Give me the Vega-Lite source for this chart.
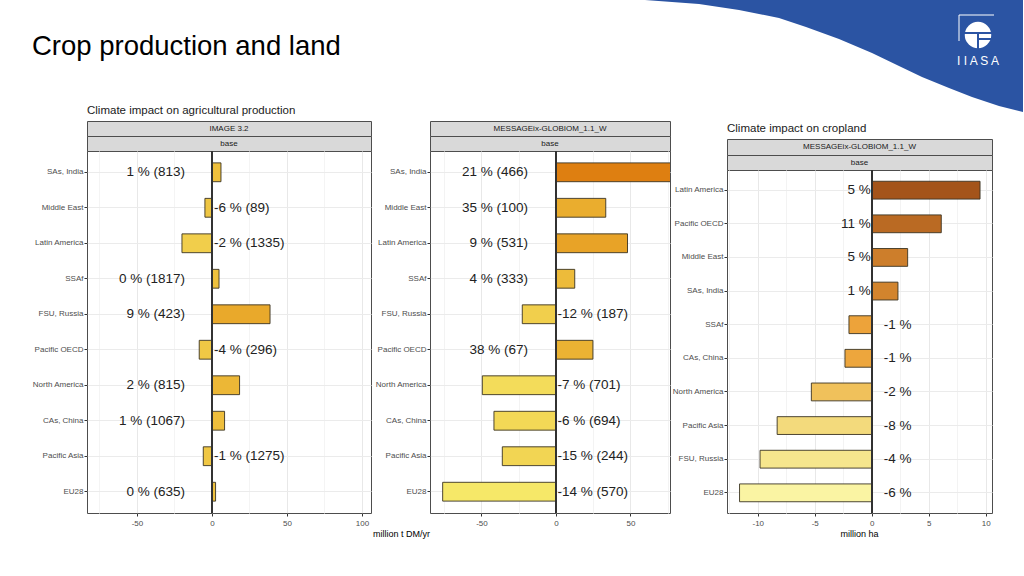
{
  "$schema": "https://vega.github.io/schema/vega-lite/v6.json",
  "background": "white",
  "padding": {"left": 31, "top": 0, "right": 0, "bottom": 0},
  "bounds": "flush",
  "spacing": 11,
  "config": {
    "view": {"stroke": null},
    "font": "Liberation Sans",
    "axis": {"labelFont": "Liberation Sans", "titleFont": "Liberation Sans", "labelOverlap": false},
    "text": {"font": "Liberation Sans"},
    "title": {"font": "Liberation Sans"}
  },
  "datasets": {
    "prod": [
      {"model": "IMAGE 3.2", "region": "SAs, India", "value": 6, "label": "1 % (813)"},
      {"model": "IMAGE 3.2", "region": "Middle East", "value": -4.7, "label": "-6 % (89)"},
      {"model": "IMAGE 3.2", "region": "Latin America", "value": -20, "label": "-2 % (1335)"},
      {"model": "IMAGE 3.2", "region": "SSAf", "value": 4.7, "label": "0 % (1817)"},
      {"model": "IMAGE 3.2", "region": "FSU, Russia", "value": 38.7, "label": "9 % (423)"},
      {"model": "IMAGE 3.2", "region": "Pacific OECD", "value": -8.5, "label": "-4 % (296)"},
      {"model": "IMAGE 3.2", "region": "North America", "value": 18.4, "label": "2 % (815)"},
      {"model": "IMAGE 3.2", "region": "CAs, China", "value": 8.4, "label": "1 % (1067)"},
      {"model": "IMAGE 3.2", "region": "Pacific Asia", "value": -5.8, "label": "-1 % (1275)"},
      {"model": "IMAGE 3.2", "region": "EU28", "value": 2.4, "label": "0 % (635)"},
      {"model": "MESSAGEix-GLOBIOM_1.1_W", "region": "SAs, India", "value": 98, "label": "21 % (466)"},
      {"model": "MESSAGEix-GLOBIOM_1.1_W", "region": "Middle East", "value": 33.4, "label": "35 % (100)"},
      {"model": "MESSAGEix-GLOBIOM_1.1_W", "region": "Latin America", "value": 48, "label": "9 % (531)"},
      {"model": "MESSAGEix-GLOBIOM_1.1_W", "region": "SSAf", "value": 12.6, "label": "4 % (333)"},
      {"model": "MESSAGEix-GLOBIOM_1.1_W", "region": "FSU, Russia", "value": -22.6, "label": "-12 % (187)"},
      {"model": "MESSAGEix-GLOBIOM_1.1_W", "region": "Pacific OECD", "value": 24.8, "label": "38 % (67)"},
      {"model": "MESSAGEix-GLOBIOM_1.1_W", "region": "North America", "value": -49.4, "label": "-7 % (701)"},
      {"model": "MESSAGEix-GLOBIOM_1.1_W", "region": "CAs, China", "value": -41.6, "label": "-6 % (694)"},
      {"model": "MESSAGEix-GLOBIOM_1.1_W", "region": "Pacific Asia", "value": -36, "label": "-15 % (244)"},
      {"model": "MESSAGEix-GLOBIOM_1.1_W", "region": "EU28", "value": -76, "label": "-14 % (570)"}
    ],
    "land": [
      {"region": "Latin America", "value": 9.5, "label": "5 %"},
      {"region": "Pacific OECD", "value": 6.1, "label": "11 %"},
      {"region": "Middle East", "value": 3.15, "label": "5 %"},
      {"region": "SAs, India", "value": 2.3, "label": "1 %"},
      {"region": "SSAf", "value": -2.0, "label": "-1 %"},
      {"region": "CAs, China", "value": -2.35, "label": "-1 %"},
      {"region": "North America", "value": -5.3, "label": "-2 %"},
      {"region": "Pacific Asia", "value": -8.3, "label": "-8 %"},
      {"region": "FSU, Russia", "value": -9.8, "label": "-4 %"},
      {"region": "EU28", "value": -11.6, "label": "-6 %"}
    ],
    "swoosh": [
      {"x": 646, "y": 0}, {"x": 700, "y": 4}, {"x": 740, "y": 10}, {"x": 780, "y": 18},
      {"x": 807, "y": 27}, {"x": 840, "y": 39}, {"x": 873, "y": 53}, {"x": 900, "y": 66},
      {"x": 923, "y": 77}, {"x": 950, "y": 88}, {"x": 973, "y": 97}, {"x": 1000, "y": 106},
      {"x": 1024, "y": 112}
    ],
    "logo": [{"x": 979, "y": 35}],
    "logo_frame": [
      {"x": 960, "y": 15, "x2": 995, "y2": 15},
      {"x": 960, "y": 15, "x2": 960, "y2": 41}
    ],
    "logo_cut": [
      {"x": 964, "y": 33, "x2": 996, "y2": 33},
      {"x": 979, "y": 39, "x2": 996, "y2": 39},
      {"x": 979, "y": 33, "x2": 979, "y2": 51}
    ],
    "logo_text": [{"x": 979, "y": 61, "t": "I  I  A  S  A"}]
  },
  "vconcat": [
    {
      "width": 936,
      "height": 110,
      "title": {"text": "Crop production and land", "anchor": "start", "dx": -55, "offset": -82.5, "baseline": "alphabetic", "fontSize": 27.5, "fontWeight": "normal", "color": "#000000", "font": "Liberation Sans"},
      "layer": [
        {
          "data": {"name": "swoosh"},
          "mark": {"type": "area", "color": "#2b54a3", "clip": false},
          "encoding": {
            "x": {"field": "x", "type": "quantitative", "scale": {"domain": [88, 1024], "nice": false, "zero": false}, "axis": null},
            "y": {"field": "y", "type": "quantitative", "scale": {"domain": [0, 110], "nice": false, "zero": false, "reverse": true}, "axis": null},
            "y2": {"datum": 0}
          }
        },
        {
          "data": {"name": "logo_frame"},
          "mark": {"type": "rule", "color": "#ffffff", "strokeWidth": 1},
          "encoding": {
            "x": {"field": "x", "type": "quantitative"},
            "y": {"field": "y", "type": "quantitative"},
            "x2": {"field": "x2"},
            "y2": {"field": "y2"}
          }
        },
        {
          "data": {"name": "logo"},
          "mark": {"type": "point", "shape": "circle", "filled": true, "color": "#ffffff", "opacity": 1, "size": 700},
          "encoding": {
            "x": {"field": "x", "type": "quantitative"},
            "y": {"field": "y", "type": "quantitative"}
          }
        },
        {
          "data": {"name": "logo_cut"},
          "mark": {"type": "rule", "color": "#2b54a3", "strokeWidth": 2},
          "encoding": {
            "x": {"field": "x", "type": "quantitative"},
            "y": {"field": "y", "type": "quantitative"},
            "x2": {"field": "x2"},
            "y2": {"field": "y2"}
          }
        },
        {
          "data": {"name": "logo_text"},
          "mark": {"type": "text", "color": "#ffffff", "fontSize": 12, "align": "center", "baseline": "middle"},
          "encoding": {
            "x": {"field": "x", "type": "quantitative"},
            "y": {"field": "y", "type": "quantitative"},
            "text": {"field": "t"}
          }
        }
      ]
    },
    {
      "resolve": {"scale": {"color": "independent"}},
      "spacing": 0,
      "hconcat": [
        {
          "vconcat": [
            {
              "width": 284, "height": 15,
              "title": {"text": "Climate impact on agricultural production", "anchor": "start", "fontSize": 11.5, "fontWeight": "normal", "color": "#1a1a1a", "offset": -4, "baseline": "alphabetic"},
              "data": {"values": [{"t": "IMAGE 3.2"}]},
              "view": {"fill": "#d9d9d9", "stroke": "#4d4d4d"},
              "mark": {"type": "text", "fontSize": 8, "color": "#1a1a1a", "align": "center", "baseline": "middle"},
              "encoding": {"text": {"field": "t"}}
            },
            {
              "width": 284, "height": 15,
              "data": {"values": [{"t": "base"}]},
              "view": {"fill": "#d9d9d9", "stroke": "#4d4d4d"},
              "mark": {"type": "text", "fontSize": 8, "color": "#1a1a1a", "align": "center", "baseline": "middle"},
              "encoding": {"text": {"field": "t"}}
            },
            {
              "width": 284, "height": 362,
              "data": {"name": "prod"},
              "transform": [{"filter": "datum.model === 'IMAGE 3.2'"}],
              "view": {"stroke": "#4d4d4d", "fill": "#ffffff"},
              "layer": [
                {
                  "mark": {"type": "bar", "stroke": "#3a3322", "strokeWidth": 0.9, "clip": true},
                  "encoding": {
                    "x": {"field": "value", "type": "quantitative",
                      "scale": {"domain": [-83.3, 106], "nice": false},
                      "axis": {"title": null, "values": [-75, -50, -25, 0, 25, 50, 75, 100],
                        "labelExpr": "datum.value % 50 === 0 ? '' + datum.value : ''",
                        "grid": true,
                        "gridColor": {"condition": {"test": "datum.value % 50 !== 0", "value": "#f4f4f4"}, "value": "#e8e8e8"},
                        "tickOpacity": {"condition": {"test": "datum.value % 50 !== 0", "value": 0}, "value": 1},
                        "tickSize": 3, "tickColor": "#333333", "labelFontSize": 8, "labelColor": "#4d4d4d", "labelPadding": 3, "domain": false}},
                    "y": {"field": "region", "type": "nominal",
                      "sort": ["SAs, India", "Middle East", "Latin America", "SSAf", "FSU, Russia", "Pacific OECD", "North America", "CAs, China", "Pacific Asia", "EU28"],
                      "scale": {"paddingInner": 0.47, "paddingOuter": 0.335},
                      "axis": {"title": null, "labelFontSize": 8, "labelColor": "#4d4d4d", "tickColor": "#333333", "tickSize": 3, "labelPadding": 1, "domain": false, "grid": true, "gridColor": "#ebebeb"}},
                    "color": {"field": "value", "type": "quantitative", "scale": {"domain": [-80, 0, 100], "range": ["#f6ea6a", "#efc441", "#de7e10"]}, "legend": null}
                  }
                },
                {
                  "mark": {"type": "rule", "color": "#333333", "strokeWidth": 1},
                  "encoding": {"x": {"datum": 0, "type": "quantitative"}}
                },
                {
                  "transform": [{"filter": "datum.value > 0"}],
                  "mark": {"type": "text", "align": "right", "baseline": "middle", "dx": -27, "fontSize": 13.5, "color": "#222222"},
                  "encoding": {
                    "x": {"datum": 0, "type": "quantitative"},
                    "y": {"field": "region", "type": "nominal", "sort": ["SAs, India", "Middle East", "Latin America", "SSAf", "FSU, Russia", "Pacific OECD", "North America", "CAs, China", "Pacific Asia", "EU28"]},
                    "text": {"field": "label"}
                  }
                },
                {
                  "transform": [{"filter": "datum.value <= 0"}],
                  "mark": {"type": "text", "align": "left", "baseline": "middle", "dx": 2, "fontSize": 13.5, "color": "#222222"},
                  "encoding": {
                    "x": {"datum": 0, "type": "quantitative"},
                    "y": {"field": "region", "type": "nominal", "sort": ["SAs, India", "Middle East", "Latin America", "SSAf", "FSU, Russia", "Pacific OECD", "North America", "CAs, China", "Pacific Asia", "EU28"]},
                    "text": {"field": "label"}
                  }
                }
              ]
            }
          ],
          "spacing": 0,
          "bounds": "flush"
        },
        {
          "vconcat": [
            {
              "width": 240, "height": 15,
              "data": {"values": [{"t": "MESSAGEix-GLOBIOM_1.1_W"}]},
              "view": {"fill": "#d9d9d9", "stroke": "#4d4d4d"},
              "mark": {"type": "text", "fontSize": 8, "color": "#1a1a1a", "align": "center", "baseline": "middle"},
              "encoding": {"text": {"field": "t"}}
            },
            {
              "width": 240, "height": 15,
              "data": {"values": [{"t": "base"}]},
              "view": {"fill": "#d9d9d9", "stroke": "#4d4d4d"},
              "mark": {"type": "text", "fontSize": 8, "color": "#1a1a1a", "align": "center", "baseline": "middle"},
              "encoding": {"text": {"field": "t"}}
            },
            {
              "width": 240, "height": 362,
              "title": {"text": "million t DM/yr", "orient": "bottom", "anchor": "start", "frame": "group", "dx": -57, "offset": 3, "fontSize": 9, "fontWeight": "normal", "color": "#000000"},
              "data": {"name": "prod"},
              "transform": [{"filter": "datum.model === 'MESSAGEix-GLOBIOM_1.1_W'"}],
              "view": {"stroke": "#4d4d4d", "fill": "#ffffff"},
              "resolve": {"axis": {"x": "independent"}},
              "layer": [
                {
                  "mark": {"type": "rule", "color": "#333333", "strokeWidth": 1},
                  "encoding": {"x": {"datum": 0, "type": "quantitative",
                    "axis": {"orient": "bottom", "title": null, "values": [-75, -25, 25, 75], "grid": true, "gridColor": "#f3f3f3", "labels": false, "ticks": false, "domain": false}}}
                },
                {
                  "mark": {"type": "bar", "stroke": "#3a3322", "strokeWidth": 0.9, "clip": true},
                  "encoding": {
                    "x": {"field": "value", "type": "quantitative",
                      "scale": {"domain": [-84.5, 76.5], "nice": false},
                      "axis": {"orient": "bottom", "title": null,
                        "values": [-50, 0, 50],
                        "labelExpr": "'' + datum.value",
                        "grid": true, "gridColor": "#e8e8e8",
                        "tickSize": 3, "tickColor": "#333333", "labelFontSize": 8, "labelColor": "#4d4d4d", "labelPadding": 3, "domain": false}},
                    "y": {"field": "region", "type": "nominal",
                      "sort": ["SAs, India", "Middle East", "Latin America", "SSAf", "FSU, Russia", "Pacific OECD", "North America", "CAs, China", "Pacific Asia", "EU28"],
                      "scale": {"paddingInner": 0.47, "paddingOuter": 0.335},
                      "axis": {"title": null, "labelFontSize": 8, "labelColor": "#4d4d4d", "tickColor": "#333333", "tickSize": 3, "labelPadding": 1, "domain": false, "grid": true, "gridColor": "#ebebeb"}},
                    "color": {"field": "value", "type": "quantitative", "scale": {"domain": [-80, 0, 100], "range": ["#f6ea6a", "#efc441", "#de7e10"]}, "legend": null}
                  }
                },
                {
                  "mark": {"type": "rule", "color": "#333333", "strokeWidth": 1},
                  "encoding": {"x": {"datum": 0, "type": "quantitative", "axis": null}}
                },
                {
                  "transform": [{"filter": "datum.value > 0"}],
                  "mark": {"type": "text", "align": "right", "baseline": "middle", "dx": -28, "fontSize": 13.5, "color": "#222222"},
                  "encoding": {
                    "x": {"datum": 0, "type": "quantitative", "axis": null},
                    "y": {"field": "region", "type": "nominal", "sort": ["SAs, India", "Middle East", "Latin America", "SSAf", "FSU, Russia", "Pacific OECD", "North America", "CAs, China", "Pacific Asia", "EU28"]},
                    "text": {"field": "label"}
                  }
                },
                {
                  "transform": [{"filter": "datum.value <= 0"}],
                  "mark": {"type": "text", "align": "left", "baseline": "middle", "dx": 1.5, "fontSize": 13.5, "color": "#222222"},
                  "encoding": {
                    "x": {"datum": 0, "type": "quantitative", "axis": null},
                    "y": {"field": "region", "type": "nominal", "sort": ["SAs, India", "Middle East", "Latin America", "SSAf", "FSU, Russia", "Pacific OECD", "North America", "CAs, China", "Pacific Asia", "EU28"]},
                    "text": {"field": "label"}
                  }
                }
              ]
            }
          ],
          "spacing": 0,
          "bounds": "flush"
        },
        {
          "vconcat": [
            {
              "width": 265, "height": 18,
              "data": {"values": [{"t": ""}]},
              "mark": {"type": "text"},
              "encoding": {"text": {"field": "t"}}
            },
            {
              "width": 265, "height": 16,
              "title": {"text": "Climate impact on cropland", "anchor": "start", "fontSize": 11.5, "fontWeight": "normal", "color": "#1a1a1a", "offset": -4, "baseline": "alphabetic"},
              "data": {"values": [{"t": "MESSAGEix-GLOBIOM_1.1_W"}]},
              "view": {"fill": "#d9d9d9", "stroke": "#4d4d4d"},
              "mark": {"type": "text", "fontSize": 8, "color": "#1a1a1a", "align": "center", "baseline": "middle"},
              "encoding": {"text": {"field": "t"}}
            },
            {
              "width": 265, "height": 15,
              "data": {"values": [{"t": "base"}]},
              "view": {"fill": "#d9d9d9", "stroke": "#4d4d4d"},
              "mark": {"type": "text", "fontSize": 8, "color": "#1a1a1a", "align": "center", "baseline": "middle"},
              "encoding": {"text": {"field": "t"}}
            },
            {
              "width": 265, "height": 343,
              "title": {"text": "million ha", "orient": "bottom", "anchor": "middle", "frame": "group", "offset": 3, "fontSize": 9, "fontWeight": "normal", "color": "#000000"},
              "data": {"name": "land"},
              "view": {"stroke": "#4d4d4d", "fill": "#ffffff"},
              "resolve": {"axis": {"x": "independent"}},
              "layer": [
                {
                  "mark": {"type": "rule", "color": "#333333", "strokeWidth": 1},
                  "encoding": {"x": {"datum": 0, "type": "quantitative",
                    "axis": {"orient": "bottom", "title": null, "values": [-12.5, -7.5, -2.5, 2.5, 7.5], "grid": true, "gridColor": "#f3f3f3", "labels": false, "ticks": false, "domain": false}}}
                },
                {
                  "mark": {"type": "bar", "stroke": "#3a3322", "strokeWidth": 0.9, "clip": true},
                  "encoding": {
                    "x": {"field": "value", "type": "quantitative",
                      "scale": {"domain": [-12.7, 10.55], "nice": false},
                      "axis": {"orient": "bottom", "title": null,
                        "values": [-10, -5, 0, 5, 10],
                        "labelExpr": "'' + datum.value",
                        "grid": true, "gridColor": "#e8e8e8",
                        "tickSize": 3, "tickColor": "#333333", "labelFontSize": 8, "labelColor": "#4d4d4d", "labelPadding": 3, "domain": false}},
                    "y": {"field": "region", "type": "nominal",
                      "sort": ["Latin America", "Pacific OECD", "Middle East", "SAs, India", "SSAf", "CAs, China", "North America", "Pacific Asia", "FSU, Russia", "EU28"],
                      "scale": {"paddingInner": 0.47, "paddingOuter": 0.335},
                      "axis": {"title": null, "labelFontSize": 8, "labelColor": "#4d4d4d", "tickColor": "#333333", "tickSize": 3, "labelPadding": 1, "domain": false, "grid": true, "gridColor": "#ebebeb"}},
                    "color": {"field": "value", "type": "quantitative", "scale": {"domain": [-11.6, -2, 9.5], "range": ["#faf4a3", "#eda33a", "#a4541a"]}, "legend": null}
                  }
                },
                {
                  "mark": {"type": "rule", "color": "#333333", "strokeWidth": 1},
                  "encoding": {"x": {"datum": 0, "type": "quantitative", "axis": null}}
                },
                {
                  "transform": [{"filter": "datum.value > 0"}],
                  "mark": {"type": "text", "align": "right", "baseline": "middle", "dx": -1, "fontSize": 13.5, "color": "#222222"},
                  "encoding": {
                    "x": {"datum": 0, "type": "quantitative", "axis": null},
                    "y": {"field": "region", "type": "nominal", "sort": ["Latin America", "Pacific OECD", "Middle East", "SAs, India", "SSAf", "CAs, China", "North America", "Pacific Asia", "FSU, Russia", "EU28"]},
                    "text": {"field": "label"}
                  }
                },
                {
                  "transform": [{"filter": "datum.value <= 0"}],
                  "mark": {"type": "text", "align": "left", "baseline": "middle", "dx": 12, "fontSize": 13.5, "color": "#222222"},
                  "encoding": {
                    "x": {"datum": 0, "type": "quantitative", "axis": null},
                    "y": {"field": "region", "type": "nominal", "sort": ["Latin America", "Pacific OECD", "Middle East", "SAs, India", "SSAf", "CAs, China", "North America", "Pacific Asia", "FSU, Russia", "EU28"]},
                    "text": {"field": "label"}
                  }
                }
              ]
            }
          ],
          "spacing": 0,
          "bounds": "flush"
        }
      ]
    }
  ]
}
